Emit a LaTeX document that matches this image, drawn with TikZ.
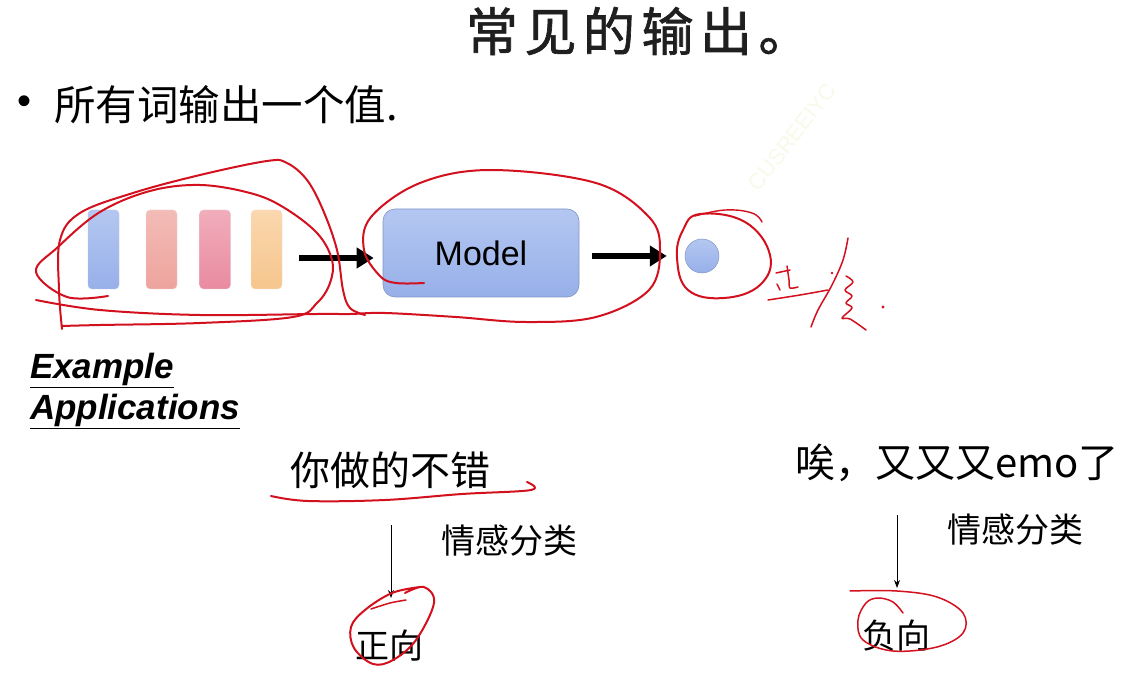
\documentclass[tikz,border=0pt]{standalone}
\usepackage{fontspec}
\setmainfont{Liberation Sans}
\newfontfamily\cjk{Noto Sans CJK SC}
\newfontfamily\cjktitle[FakeBold=1.3]{Noto Sans CJK SC}
\usetikzlibrary{arrows.meta}
\definecolor{ink}{HTML}{D2101E}
\definecolor{bluetop}{HTML}{B4C7F1}
\definecolor{bluebot}{HTML}{97B0E9}
\definecolor{salmtop}{HTML}{F3BCB7}
\definecolor{salmbot}{HTML}{EEA39D}
\definecolor{pinktop}{HTML}{F1ADBB}
\definecolor{pinkbot}{HTML}{E98BA0}
\definecolor{orantop}{HTML}{FAD7AE}
\definecolor{oranbot}{HTML}{F6C68D}
\definecolor{wmark}{HTML}{F6FBE9}
\newcommand{\fs}[1]{\fontsize{#1}{#1}\selectfont}
\newcommand{\tg}{\hspace{6.5pt}}
\tikzset{
  txt/.style={inner sep=0pt, outer sep=0pt},
  token/.style={rounded corners=4pt, minimum width=31pt, minimum height=79pt, inner sep=0pt},
  bigarrow/.style={line width=6pt, -{Triangle[length=17pt,width=20pt]}},
  thinarrow/.style={line width=0.8pt, -{Stealth[length=8pt,width=6pt]}},
  pen/.style={ink, line width=2pt, line cap=round, line join=round},
}
\begin{document}
\begin{tikzpicture}[x=1pt,y=-1pt]
\useasboundingbox (0,0) rectangle (1126,684);
\fill[white] (0,0) rectangle (1126,684);

% watermark
\node[txt, text=wmark, rotate=52, font=\fs{22}] (wm) at (792,137) {CUSREEIYC};

% title
\node[txt, anchor=west, text=black!88, font=\cjktitle\fs{52}] (title) at (466,31) {常\tg 见\tg 的\tg 输\tg 出\tg 。};

% bullet line
\node[txt, anchor=west, font=\fs{40}] (dotb) at (17,105) {•};
\node[txt, anchor=west, font=\cjk\fs{41.5}] (bullet) at (54,105) {所有词输出一个值.};

% tokens
\node[token, top color=bluetop, bottom color=bluebot, draw=bluebot!90!black!60] (t1) at (103.5,249.5) {};
\node[token, top color=salmtop, bottom color=salmbot, draw=salmbot!90!black!40] (t2) at (161.5,249.5) {};
\node[token, top color=pinktop, bottom color=pinkbot, draw=pinkbot!90!black!40] (t3) at (215,249.5) {};
\node[token, top color=orantop, bottom color=oranbot, draw=oranbot!90!black!30] (t4) at (266.5,249.5) {};

% model
\node[rounded corners=12pt, minimum width=196pt, minimum height=88pt, inner sep=0pt,
      top color=bluetop, bottom color=bluebot, draw=bluebot!85!black, line width=0.6pt,
      font=\fs{34}] (model) at (481,253) {Model};

% output dot
\node[circle, minimum size=34pt, inner sep=0pt, top color=bluetop, bottom color=bluebot,
      draw=bluebot!85!black, line width=0.5pt] (dot) at (702,256) {};

% thick arrows
\draw[bigarrow, shorten <=17pt, shorten >=9pt] (t4.east |- 0,258) -- (model.west |- 0,258);
\draw[bigarrow, shorten <=13pt, shorten >=18pt] (model.east |- dot.west) -- (dot.west);

% example applications
\node[txt, anchor=west, font=\bfseries\itshape\fs{35}] (ex1) at (30,370) {\underline{Example}};
\node[txt, anchor=west, font=\bfseries\itshape\fs{35}] (ex2) at (30,411) {\underline{Applications}};

% left example
\node[txt, font=\cjk\fs{40}] (s1) at (390,470) {你做的不错};
\node[txt, font=\cjk\fs{34}] (c1) at (509,541) {情感分类};
\node[txt, font=\cjk\fs{34}] (p1) at (389,646) {正向};
\coordinate (a1s) at (391,525);
\coordinate (a1e) at (391,598);
\draw[thinarrow] (a1s) -- (a1e);

% right example
\node[txt, anchor=west, font=\cjk\fs{40}] (s2) at (795,463) {唉，又又又emo了};
\node[txt, font=\cjk\fs{34}] (c2) at (1015,530) {情感分类};
\node[txt, font=\cjk\fs{34}] (p2) at (896,636) {负向};
\coordinate (a2s) at (897,515);
\coordinate (a2e) at (897,588);
\draw[thinarrow] (a2s) -- (a2e);

% ---- red handwriting ----
% inner loop around tokens
\draw[pen] plot[smooth, tension=0.6] coordinates {(108,296) (67,297) (36,272) (58,247) (100,212) (150,191) (200,185) (250,193) (283,207) (317,233) (332,260) (330,283) (317,303) (293,317) (200,323) (100,325) (62,326)};
% outer loop
\draw[pen] plot[smooth, tension=0.6] coordinates {(62,329) (59,290) (60,240) (80,213) (133,193) (200,175) (267,161) (287,163) (307,180) (323,210) (337,250) (343,290) (350,308) (365,315)};
% bottom stroke + model loop
\draw[pen] plot[smooth, tension=0.6] coordinates {(36,300) (100,310) (200,315) (317,314) (350,314) (385,313) (456,317) (526,322) (596,317) (649,290) (660,250) (649,217) (596,183) (491,170) (420,183) (371,217) (364,250) (380,276) (396,283) (424,283)};
% output circle
\draw[pen] plot[smooth cycle, tension=0.7] coordinates {(700,214) (745,222) (770,255) (760,285) (724,298) (688,290) (677,258) (683,230)};
\draw[pen, line width=1.4pt] plot[smooth, tension=0.7] coordinates {(695,216) (725,210) (752,213) (762,222)};
% handwriting "正负."
\draw[pen, line width=1.5pt] (776,273) -- (790,270);
\draw[pen, line width=1.5pt] plot[smooth] coordinates {(787,266) (789,280) (790,288) (798,287)};
\draw[pen, line width=1.5pt] (777,284) -- (780,290);
\draw[pen, line width=1.5pt] plot[smooth] coordinates {(768,300) (800,295) (828,290)};
\draw[pen, line width=1.5pt] plot[smooth, tension=0.6] coordinates {(848,238) (843,260) (832,285) (818,310) (811,327)};
\fill[ink] (832,273) circle (1.3pt);
\draw[pen, line width=1.5pt] plot[smooth, tension=0.6] coordinates {(846,276) (853,282) (845,290) (852,296) (846,303) (852,308) (842,318) (850,319) (866,330)};
\fill[ink] (883,307) circle (1.6pt);
% underline under s1
\draw[pen] plot[smooth, tension=0.6] coordinates {(271,496) (308,501) (385,500) (462,494) (531,490) (527,482)};
% circle around 正向
\draw[pen] plot[smooth, tension=0.6] coordinates {(405,593) (424,587) (434,603) (416,640) (393,660) (373,664) (354,648) (351,627) (365,610) (392,593) (420,587)};
\draw[pen, line width=1.5pt] plot[smooth] coordinates {(371,609) (390,603) (406,600)};
% circle around 负向
\draw[pen, line width=1.5pt] plot[smooth, tension=0.6] coordinates {(850,591) (897,591) (937,597) (963,613) (963,633) (937,647) (893,651) (863,640) (858,620) (866,603) (878,598) (893,602) (903,613)};
\end{tikzpicture}
\end{document}
